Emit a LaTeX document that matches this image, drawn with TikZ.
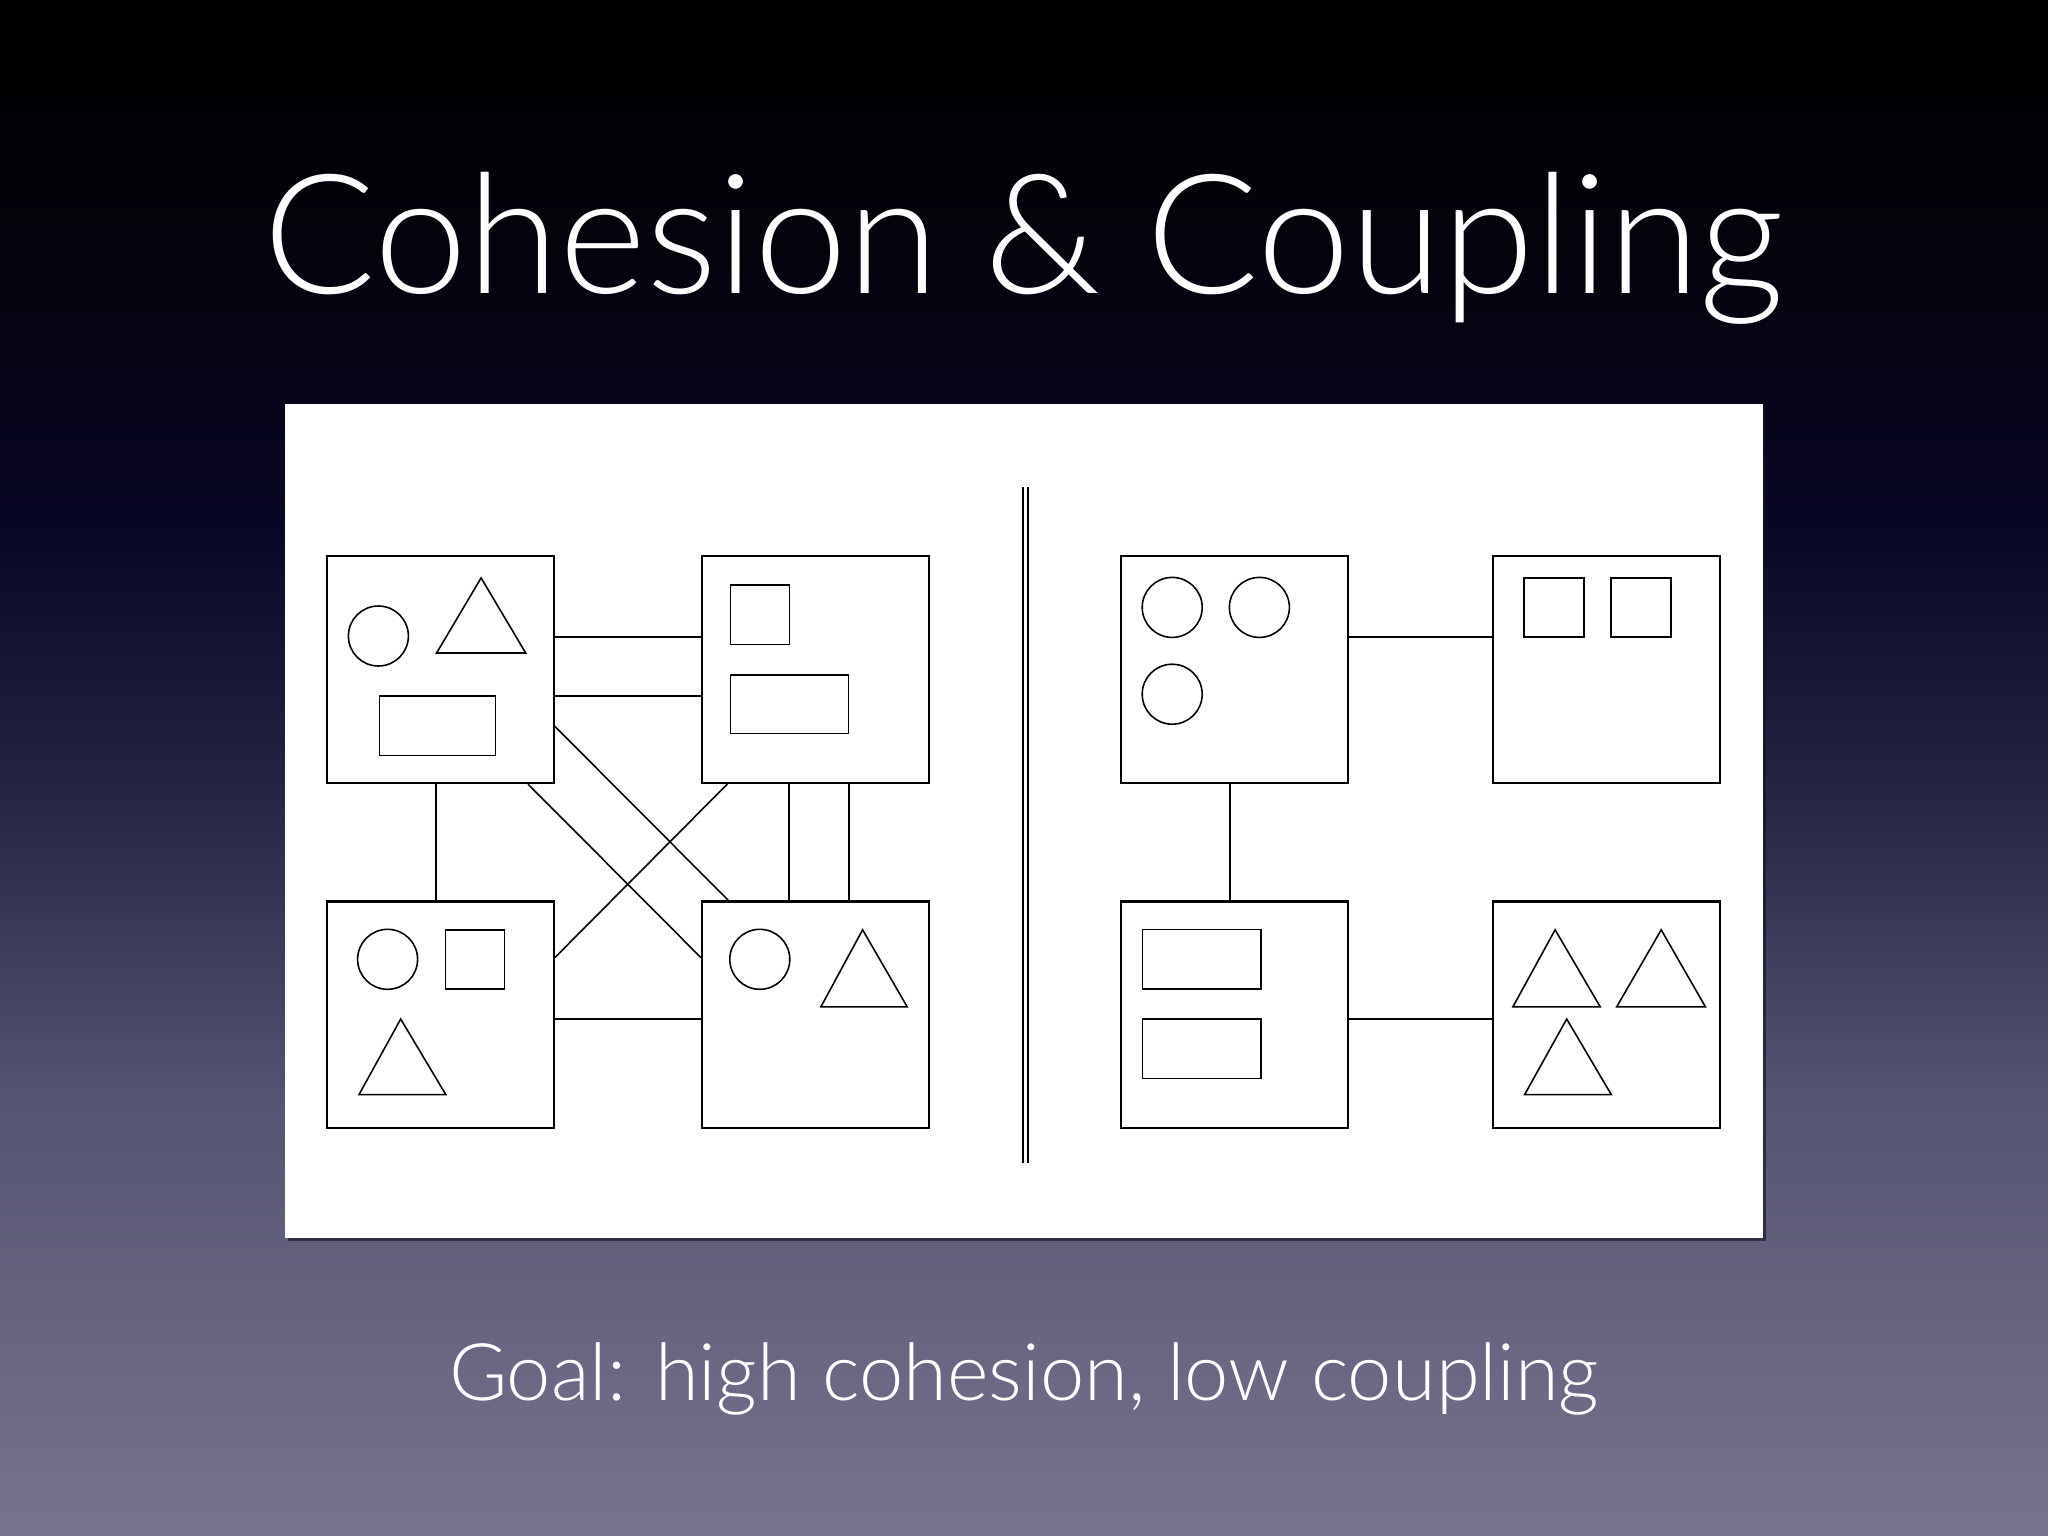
\documentclass[tikz,border=0pt]{standalone}
\usepackage{fontspec}
\usetikzlibrary{calc}
\IfFontExistsTF{Lato Light}{\newfontfamily\slidefont{Lato Light}}{\newfontfamily\slidefont{Liberation Sans}}
\definecolor{bgA}{RGB}{0,0,0}
\definecolor{bgB}{RGB}{3,3,12}
\definecolor{bgC}{RGB}{8,6,38}
\definecolor{bgD}{RGB}{38,37,70}
\definecolor{bgE}{RGB}{85,84,115}
\definecolor{bgF}{RGB}{118,115,142}
\begin{document}
\begin{tikzpicture}[x=0.01cm,y=-0.01cm,
  modbox/.style={draw=black, line width=0.6pt, minimum size=2.265cm, inner sep=0pt, fill=white},
  wire/.style={draw=black, line width=0.6pt},
  thinwire/.style={draw=black, line width=0.45pt},
  glyph/.style={draw=black, line width=0.45pt},
  slidetext/.style={text=white, anchor=base, inner sep=0pt}]
\useasboundingbox (0,0) rectangle (2048,1536);
% background gradient
\shade[top color=bgA, bottom color=bgB] (0,0) rectangle (2048,251);
\shade[top color=bgB, bottom color=bgC] (0,250) rectangle (2048,521);
\shade[top color=bgC, bottom color=bgD] (0,520) rectangle (2048,801);
\shade[top color=bgD, bottom color=bgE] (0,800) rectangle (2048,1101);
\shade[top color=bgE, bottom color=bgF] (0,1100) rectangle (2048,1536);
% title and subtitle
\node[slidetext, font=\slidefont\fontsize{47.4pt}{52pt}\selectfont] (title) at (1024,293) {Cohesion \& Coupling};
\node[slidetext, font=\slidefont\fontsize{22.6pt}{26pt}\selectfont] (goal) at (1024,1400.7) {Goal: high cohesion, low coupling};
% panel
\fill[black!55!bgD, opacity=0.6] (288,407) rectangle (1765.5,1241);
\fill[white] (285,404) rectangle (1762.5,1238);
% separator
\draw[line width=0.55pt] (1022.6,487) -- (1022.6,1163);
\draw[line width=0.55pt] (1027.6,487) -- (1027.6,1163);
% left modules
\node[modbox] (L1) at (440.4,669.75) {};
\node[modbox] (L2) at (815.35,669.75) {};
\node[modbox] (L3) at (440.4,1014.85) {};
\node[modbox] (L4) at (815.35,1014.85) {};
% right modules
\node[modbox] (R1) at (1234.45,669.75) {};
\node[modbox] (R2) at (1606.7,669.75) {};
\node[modbox] (R3) at (1234.45,1014.85) {};
\node[modbox] (R4) at (1606.7,1014.85) {};
% left connectors
\draw[wire] ($(L1.north east)!0.355!(L1.south east)$) -- ($(L2.north west)!0.355!(L2.south west)$);
\draw[wire] ($(L1.north east)!0.615!(L1.south east)$) -- ($(L2.north west)!0.615!(L2.south west)$);
\draw[wire] ($(L1.south west)!0.481!(L1.south east)$) -- ($(L3.north west)!0.481!(L3.north east)$);
\draw[wire] ($(L2.south west)!0.385!(L2.south east)$) -- ($(L4.north west)!0.385!(L4.north east)$);
\draw[wire] ($(L2.south west)!0.646!(L2.south east)$) -- ($(L4.north west)!0.646!(L4.north east)$);
\draw[wire] ($(L3.north east)!0.517!(L3.south east)$) -- ($(L4.north west)!0.517!(L4.south west)$);
\draw[thinwire] ($(L1.north east)!0.747!(L1.south east)$) -- ($(L4.north west)!0.12!(L4.north east)$);
\draw[thinwire] ($(L1.south west)!0.883!(L1.south east)$) -- ($(L4.north west)!0.25!(L4.south west)$);
\draw[thinwire] ($(L2.south west)!0.115!(L2.south east)$) -- ($(L3.north east)!0.25!(L3.south east)$);
% right connectors
\draw[wire] ($(R1.north east)!0.355!(R1.south east)$) -- ($(R2.north west)!0.355!(R2.south west)$);
\draw[wire] ($(R1.south west)!0.48!(R1.south east)$) -- ($(R3.north west)!0.48!(R3.north east)$);
\draw[wire] ($(R3.north east)!0.517!(R3.south east)$) -- ($(R4.north west)!0.517!(R4.south west)$);
% contents L1
\draw[glyph] (378.4,636.0) circle[radius=30];
\draw[glyph] (481.1,577.9) -- (436.6,653) -- (525.7,653) -- cycle;
\draw[glyph] (379.4,695.7) rectangle (495.7,755.3);
% contents L2
\draw[glyph] (730.3,585.1) rectangle (789.4,644.3);
\draw[glyph] (730.3,674.8) rectangle (848.5,733.5);
% contents L3
\draw[glyph] (387.6,959.3) circle[radius=30];
\draw[glyph] (445.3,929.8) rectangle (504.4,988.9);
\draw[glyph] (400.7,1019) -- (359,1094.6) -- (445.8,1094.6) -- cycle;
% contents L4
\draw[glyph] (759.8,959.3) circle[radius=30];
\draw[glyph] (862.6,929.8) -- (820.9,1006.8) -- (907.2,1006.8) -- cycle;
% contents R1
\draw[glyph] (1172.2,607.4) circle[radius=30];
\draw[glyph] (1259.4,607.4) circle[radius=30];
\draw[glyph] (1172.2,694.2) circle[radius=30];
% contents R2
\draw[glyph] (1524.1,577.9) rectangle (1583.7,637);
\draw[glyph] (1610.8,577.9) rectangle (1670.9,637);
% contents R3
\draw[glyph] (1142.6,929.3) rectangle (1260.9,988.9);
\draw[glyph] (1142.6,1019) rectangle (1260.9,1078.6);
% contents R4
\draw[glyph] (1555.1,929.8) -- (1512.9,1006.8) -- (1600.2,1006.8) -- cycle;
\draw[glyph] (1661.2,929.8) -- (1616.7,1006.8) -- (1705.4,1006.8) -- cycle;
\draw[glyph] (1566.7,1019) -- (1524.6,1094.6) -- (1611.3,1094.6) -- cycle;
\end{tikzpicture}
\end{document}
